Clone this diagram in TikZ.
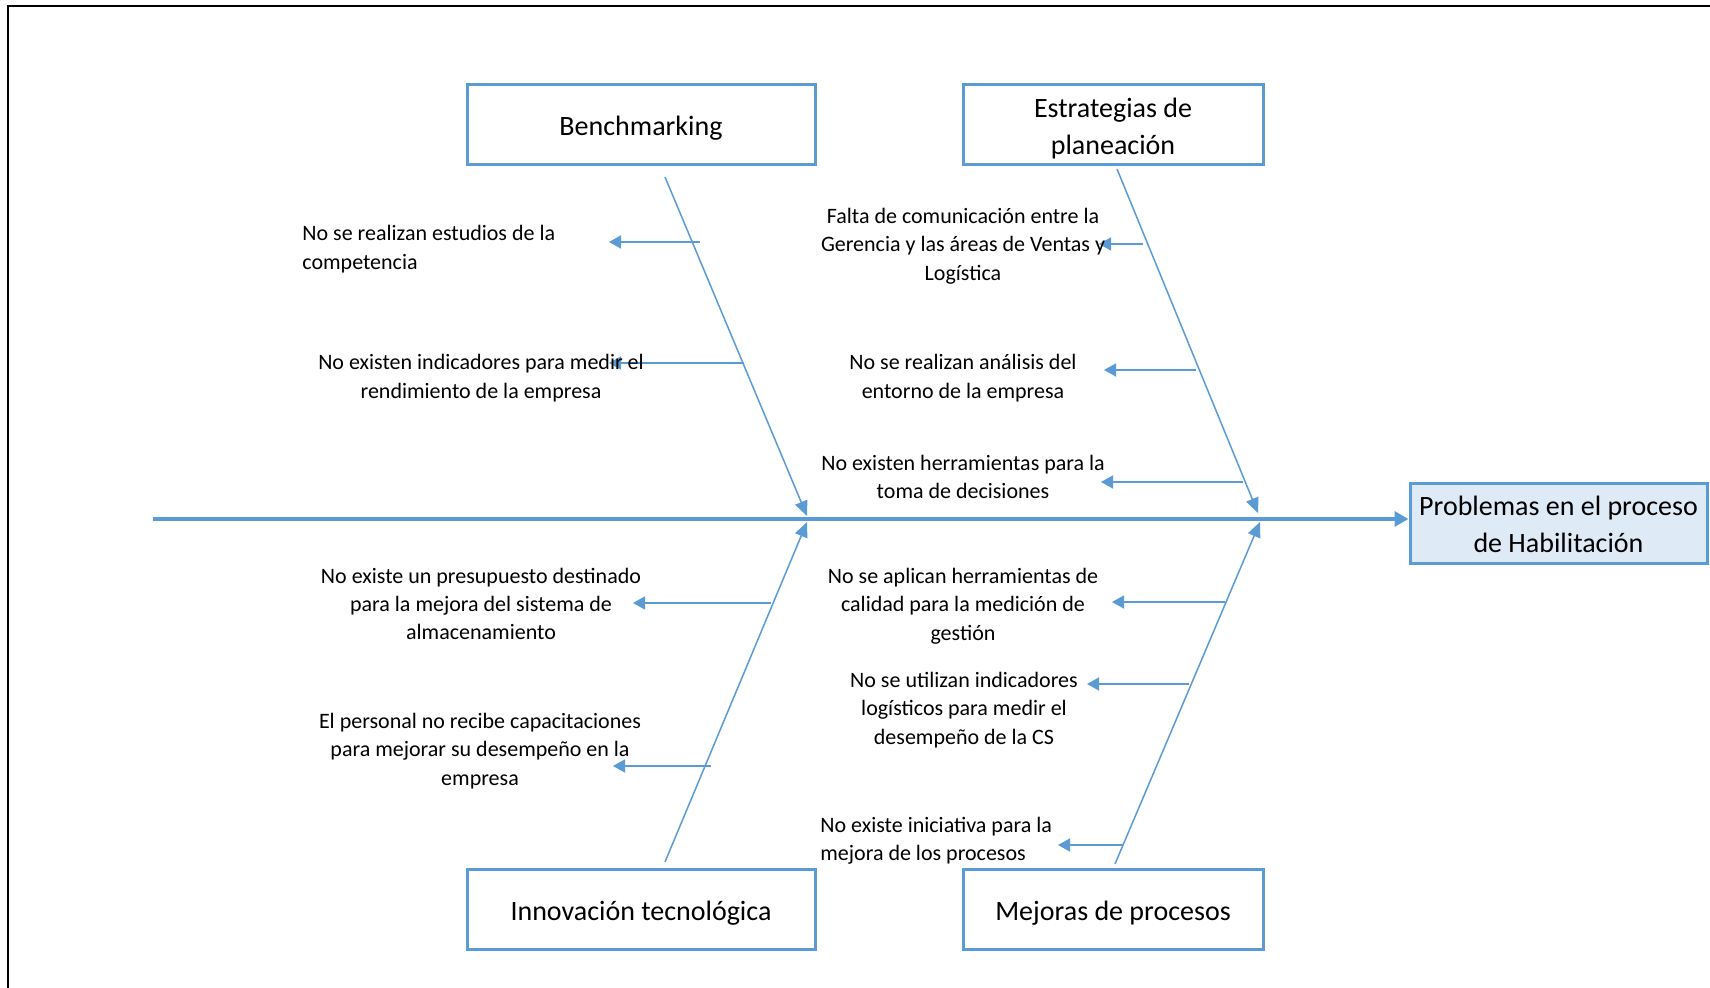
\documentclass[tikz,border=0pt]{standalone}
\usepackage{fontspec}
\setmainfont{Carlito}
\usetikzlibrary{arrows.meta}
\definecolor{fishblue}{HTML}{5B9BD5}
\definecolor{headfill}{HTML}{DEEBF7}

\begin{document}
\begin{tikzpicture}[x=0.5pt,y=-0.5pt,
  catbox/.style={draw=fishblue, line width=1.5pt, fill=white, align=center,
    inner sep=0pt, minimum height=40pt,
    font=\fontsize{14}{18.5}\selectfont},
  oneline/.style={text height=11pt, text depth=0pt},
  headbox/.style={catbox, fill=headfill},
  cause/.style={align=center, inner sep=0pt, font=\fontsize{11}{14.2}\selectfont},
  spine/.style={draw=fishblue, line width=1.8pt, -{Triangle[length=7pt,width=7.5pt]}},
  bone/.style={draw=fishblue, line width=0.75pt, -{Triangle[length=7.5pt,width=6.5pt]}},
  twig/.style={draw=fishblue, line width=0.8pt, -{Triangle[length=6pt,width=6.5pt]}}]

\useasboundingbox (0,0) rectangle (1710,988);
\fill[white] (0,0) rectangle (1710,988);

% page frame (open at the right and bottom)
\draw[black, line width=1pt] (7.6,1000) -- (7.6,6.5) -- (1720,6.5);

% effect and category boxes
\node[headbox, minimum width=148.5pt] (head) at (1558.5,524) {Problemas en el proceso\\de Habilitación};
\node[catbox, oneline, minimum width=174pt] (bench) at (641,125) {Benchmarking};
\node[catbox, minimum width=150pt] (estr) at (1113,125) {\rule{0pt}{13pt}Estrategias de\\planeación};
\node[catbox, oneline, minimum width=174pt] (innov) at (641,909.5) {Innovación tecnológica};
\node[catbox, oneline, minimum width=150pt] (mejor) at (1113,909.5) {Mejoras de procesos};

% spine
\coordinate (tail) at (153,519);
\draw[spine] (tail) -- (tail -| head.west);

% main bones
\coordinate (bS) at (665,177);  \coordinate (bT) at (807,516);
\coordinate (eS) at (1117,169); \coordinate (eT) at (1258,513);
\coordinate (iS) at (665,862);  \coordinate (iT) at (807,522);
\coordinate (mS) at (1115,864); \coordinate (mT) at (1260,522);
\draw[bone] (bS) -- (bT);
\draw[bone] (eS) -- (eT);
\draw[bone] (iS) -- (iT);
\draw[bone] (mS) -- (mT);

% cause arrows
\coordinate (b1a) at (700,242);  \coordinate (b1b) at (609,242);
\coordinate (b2a) at (744,363);  \coordinate (b2b) at (609,363);
\coordinate (e1a) at (1143,244); \coordinate (e1b) at (1099,244);
\coordinate (e2a) at (1196,370); \coordinate (e2b) at (1104,370);
\coordinate (e3a) at (1243,482); \coordinate (e3b) at (1101,482);
\coordinate (i1a) at (771,603);  \coordinate (i1b) at (633,603);
\coordinate (i2a) at (711,766);  \coordinate (i2b) at (613,766);
\coordinate (m1a) at (1225,602); \coordinate (m1b) at (1112,602);
\coordinate (m2a) at (1189,684); \coordinate (m2b) at (1087,684);
\coordinate (m3a) at (1123,845); \coordinate (m3b) at (1058,845);
\foreach \c in {b1,b2,e1,e2,e3,i1,i2,m1,m2,m3}
  \draw[twig] (\c a) -- (\c b);

% cause texts
\node[cause, anchor=west, align=left] (t1) at (302,249) {No se realizan estudios de la\\competencia};
\node[cause] (t2) at (481,378) {No existen indicadores para medir el\\rendimiento de la empresa};
\node[cause] (t3) at (963,246) {Falta de comunicación entre la\\Gerencia y las áreas de Ventas y\\Logística};
\node[cause] (t4) at (963,378) {No se realizan análisis del\\entorno de la empresa};
\node[cause] (t5) at (963,477) {No existen herramientas para la\\toma de decisiones};
\node[cause] (t6) at (481,604) {No existe un presupuesto destinado\\para la mejora del sistema de\\almacenamiento};
\node[cause] (t7) at (480,751) {El personal no recibe capacitaciones\\para mejorar su desempeño en la\\empresa};
\node[cause] (t8) at (963,606) {No se aplican herramientas de\\calidad para la medición de\\gestión};
\node[cause] (t9) at (964,710) {No se utilizan indicadores\\logísticos para medir el\\desempeño de la CS};
\node[cause, anchor=west, align=left] (t10) at (820,841) {No existe iniciativa para la\\mejora de los procesos};

\end{tikzpicture}
\end{document}
